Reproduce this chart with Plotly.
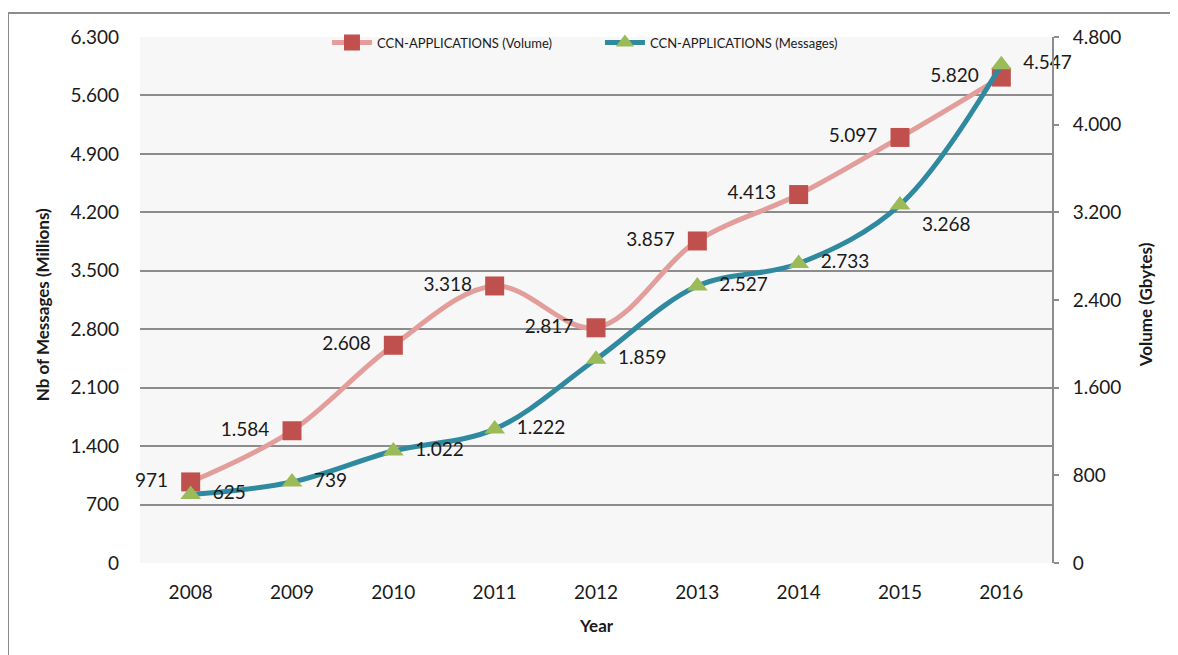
import plotly.graph_objects as go

years = ["2008", "2009", "2010", "2011", "2012", "2013", "2014", "2015", "2016"]
volume = [971, 1584, 2608, 3318, 2817, 3857, 4413, 5097, 5820]
messages = [625, 739, 1022, 1222, 1859, 2527, 2733, 3268, 4547]
msg_label_pos = ["middle right"] * 7 + ["bottom right", "middle right"]

NB = "\u00a0"


def dotted(v):
    return f"{v:,}".replace(",", ".")


FONT = "Lato, 'Open Sans', sans-serif"

# page body has an 8px margin, so the figure is shifted by that much
W, H = 1170, 647
L, T, R, B = 132, 29, 126, 92
PW, PH = W - L - R, H - T - B

fig = go.Figure()
fig.add_trace(go.Scatter(
    x=years, y=volume, name="CCN-APPLICATIONS (Volume)", cliponaxis=False,
    mode="lines+markers+text", line=dict(color="#e39d9b", width=5, shape="spline", smoothing=1),
    marker=dict(symbol="square", size=19, color="#c0504d", line=dict(width=0)),
    text=[dotted(v) + NB * 2 for v in volume], textposition="middle left",
    textfont=dict(size=19, color="#1a1a1a"),
))
fig.add_trace(go.Scatter(
    x=years, y=messages, name="CCN-APPLICATIONS (Messages)", yaxis="y2", cliponaxis=False,
    mode="lines+markers+text", line=dict(color="#2f8aa0", width=5, shape="spline", smoothing=1),
    marker=dict(symbol="triangle-up", size=18, color="#9bbb59", line=dict(width=0)),
    text=[NB * 2 + dotted(v) for v in messages], textposition=msg_label_pos,
    textfont=dict(size=19, color="#1a1a1a"),
))

fig.update_layout(
    width=W, height=H,
    margin=dict(l=L, r=R, t=T, b=B),
    paper_bgcolor="white", plot_bgcolor="#f7f7f7",
    separators=",.",
    font=dict(family=FONT, color="#1a1a1a", size=19),
    showlegend=True,
    legend=dict(orientation="h", x=0.205, y=1.018, xanchor="left", yanchor="top",
                bgcolor="rgba(0,0,0,0)", font=dict(size=13), itemwidth=40, entrywidth=218),
    xaxis=dict(type="category", range=[-0.5, 8.5], showgrid=False, showline=False,
               ticks="", ticklabelstandoff=16, tickfont=dict(size=19)),
    yaxis=dict(range=[0, 6300], dtick=700, tickformat=",", showgrid=True,
               gridcolor="#8c8c8c", gridwidth=2, zeroline=False, showline=False,
               ticks="", ticklabelstandoff=20, tickfont=dict(size=19)),
    yaxis2=dict(range=[0, 4800], dtick=800, tickformat=",", overlaying="y", side="right",
                showgrid=False, zeroline=False, showline=True, linecolor="#8c8c8c", linewidth=2,
                ticks="outside", ticklen=5, tickcolor="#8c8c8c", tickwidth=2,
                ticklabelstandoff=10, tickfont=dict(size=19)),
    annotations=[
        dict(text="<b>Nb of Messages (Millions)</b>", xref="paper", yref="paper",
             x=(34 - L) / PW, y=0.49, xanchor="center", yanchor="middle",
             textangle=-90, showarrow=False, font=dict(size=17)),
        dict(text="<b>Volume (Gbytes)</b>", xref="paper", yref="paper",
             x=(1137 - L) / PW, y=0.49, xanchor="center", yanchor="middle",
             textangle=-90, showarrow=False, font=dict(size=17)),
        dict(text="<b>Year</b>", xref="paper", yref="paper",
             x=0.5, y=(T + PH - 617) / PH, xanchor="center", yanchor="middle",
             showarrow=False, font=dict(size=17)),
    ],
    shapes=[dict(type="rect", xref="paper", yref="paper",
                 x0=(0 - L) / PW, x1=(1190 - L) / PW,
                 y0=(T + PH - 670) / PH, y1=(T + PH - 5) / PH,
                 line=dict(color="#8c8c8c", width=2), fillcolor="rgba(0,0,0,0)", layer="below")],
)

fig.write_html("out.html")
